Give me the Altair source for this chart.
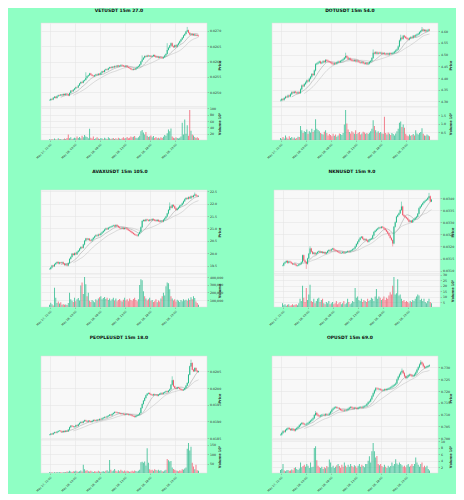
import altair as alt
import pandas as pd

UP = "#26b98a"
DOWN = "#f0576a"

tick_labels = ["2025-05-27 22:00", "2025-05-28 03:00", "2025-05-28 08:00",
               "2025-05-28 13:00", "2025-05-28 18:00", "2025-05-28 23:00"]
times = pd.date_range("2025-05-27 22:00", periods=120, freq="15min")

# ---------------- VETUSDT ----------------
vet_close = [
    0.02474, 0.02478, 0.02476, 0.02482, 0.02485, 0.02481, 0.02487, 0.02490, 0.02489, 0.02492,
    0.02490, 0.02494, 0.02491, 0.02495, 0.02493, 0.02489, 0.02497, 0.02505, 0.02503, 0.02508,
    0.02512, 0.02516, 0.02515, 0.02522, 0.02528, 0.02533, 0.02531, 0.02537, 0.02540, 0.02546,
    0.02552, 0.02555, 0.02561, 0.02557, 0.02554, 0.02552, 0.02555, 0.02558, 0.02556, 0.02560,
    0.02558, 0.02563, 0.02568, 0.02566, 0.02572, 0.02575, 0.02573, 0.02578, 0.02581, 0.02579,
    0.02583, 0.02581, 0.02585, 0.02583, 0.02587, 0.02584, 0.02586, 0.02589, 0.02587, 0.02585,
    0.02583, 0.02586, 0.02582, 0.02580, 0.02578, 0.02575, 0.02573, 0.02576, 0.02574, 0.02578,
    0.02582, 0.02585, 0.02590, 0.02600, 0.02607, 0.02612, 0.02618, 0.02616, 0.02620, 0.02617,
    0.02619, 0.02616, 0.02618, 0.02621, 0.02617, 0.02614, 0.02616, 0.02612, 0.02615, 0.02613,
    0.02611, 0.02614, 0.02620, 0.02625, 0.02638, 0.02645, 0.02652, 0.02660, 0.02650, 0.02647,
    0.02653, 0.02648, 0.02655, 0.02660, 0.02666, 0.02672, 0.02678, 0.02685, 0.02690, 0.02698,
    0.02702, 0.02694, 0.02688, 0.02691, 0.02686, 0.02689, 0.02685, 0.02687, 0.02684, 0.02683]
vet_vol = [
    3, 2, 4, 2, 5, 3, 2, 6, 3, 4,
    2, 3, 5, 4, 7, 18, 6, 9, 4, 5,
    8, 6, 12, 7, 10, 6, 14, 9, 16, 12,
    10, 6, 36, 8, 5, 12, 4, 6, 9, 5,
    4, 7, 5, 3, 8, 5, 4, 9, 6, 4,
    5, 7, 4, 6, 3, 8, 5, 4, 6, 9,
    5, 7, 10, 6, 8, 12, 9, 11, 13, 8,
    6, 9, 14, 28, 32, 24, 18, 26, 14, 10,
    12, 15, 9, 13, 7, 10, 6, 8, 5, 9,
    7, 11, 16, 14, 22, 34, 28, 37, 12, 8,
    6, 9, 7, 5, 8, 12, 55, 18, 65, 20,
    47, 14, 95, 30, 18, 15, 10, 7, 9, 6]
vet_hi = {29: 0.02565, 74: 0.02620, 94: 0.02660, 110: 0.02713}
vet_lo = {}

# ---------------- DOTUSDT ----------------
dot_close = [
    4.304, 4.310, 4.307, 4.314, 4.320, 4.318, 4.325, 4.322, 4.331, 4.339,
    4.336, 4.341, 4.338, 4.335, 4.339, 4.336, 4.352, 4.368, 4.365, 4.374,
    4.381, 4.389, 4.386, 4.397, 4.405, 4.417, 4.413, 4.432, 4.459, 4.462,
    4.466, 4.470, 4.463, 4.466, 4.472, 4.468, 4.477, 4.474, 4.470, 4.468,
    4.466, 4.462, 4.459, 4.463, 4.461, 4.466, 4.470, 4.468, 4.473, 4.476,
    4.480, 4.486, 4.494, 4.488, 4.480, 4.483, 4.478, 4.475, 4.473, 4.476,
    4.471, 4.474, 4.469, 4.467, 4.465, 4.468, 4.463, 4.461, 4.464, 4.459,
    4.462, 4.468, 4.473, 4.485, 4.508, 4.505, 4.510, 4.504, 4.508, 4.506,
    4.508, 4.503, 4.506, 4.502, 4.501, 4.504, 4.500, 4.505, 4.503, 4.506,
    4.508, 4.512, 4.518, 4.522, 4.535, 4.560, 4.572, 4.568, 4.580, 4.576,
    4.571, 4.568, 4.565, 4.570, 4.574, 4.572, 4.580, 4.577, 4.583, 4.586,
    4.589, 4.595, 4.601, 4.607, 4.602, 4.605, 4.600, 4.603, 4.606, 4.604]
dot_vol = [
    0.15, 0.10, 0.20, 0.12, 0.30, 0.18, 0.10, 0.25, 0.15, 0.20,
    0.12, 0.18, 0.10, 0.15, 0.22, 0.20, 0.85, 0.60, 0.45, 0.55,
    0.50, 0.65, 0.40, 0.55, 0.48, 0.70, 0.50, 0.60, 1.25, 0.70,
    0.62, 0.55, 0.45, 0.40, 0.35, 0.52, 0.60, 0.45, 0.30, 0.38,
    0.32, 0.25, 0.40, 0.28, 0.35, 0.22, 0.30, 0.42, 0.38, 0.33,
    0.45, 0.95, 1.80, 1.00, 0.65, 0.50, 0.42, 0.55, 0.48, 0.40,
    0.60, 0.38, 0.45, 0.50, 0.35, 0.42, 0.52, 0.48, 0.40, 0.45,
    0.38, 0.46, 0.55, 0.70, 1.20, 0.85, 0.60, 0.48, 0.55, 0.45,
    0.50, 0.42, 0.40, 1.40, 0.45, 0.35, 0.48, 0.40, 0.32, 0.45,
    0.38, 0.30, 0.42, 0.55, 0.70, 1.05, 1.12, 0.80, 0.95, 0.75,
    0.40, 0.30, 0.25, 0.35, 0.28, 0.32, 0.38, 0.30, 0.60, 0.42,
    0.35, 0.45, 0.50, 0.72, 0.40, 0.30, 0.28, 0.35, 0.30, 0.25]
dot_hi = {52: 4.508, 74: 4.522, 96: 4.585, 113: 4.618}
dot_lo = {}

# ---------------- AVAXUSDT ----------------
avax_close = [
    19.36, 19.42, 19.50, 19.47, 19.55, 19.60, 19.64, 19.58, 19.62, 19.60,
    19.63, 19.57, 19.52, 19.55, 19.50, 19.60, 19.77, 19.85, 19.98, 19.93,
    20.00, 19.96, 20.05, 20.10, 20.18, 20.25, 20.22, 20.35, 20.50, 20.59,
    20.55, 20.58, 20.52, 20.50, 20.56, 20.62, 20.68, 20.73, 20.70, 20.76,
    20.74, 20.80, 20.85, 20.90, 20.96, 21.00, 20.97, 21.03, 21.05, 21.07,
    21.10, 21.12, 21.08, 21.14, 21.10, 21.05, 21.02, 21.00, 21.03, 20.98,
    21.02, 21.00, 20.96, 20.93, 20.90, 20.86, 20.82, 20.78, 20.75, 20.73,
    20.70, 20.78, 20.86, 21.05, 21.30, 21.34, 21.30, 21.36, 21.34, 21.31,
    21.35, 21.33, 21.38, 21.35, 21.32, 21.30, 21.34, 21.29, 21.27, 21.30,
    21.28, 21.35, 21.41, 21.48, 21.60, 21.75, 21.89, 21.84, 21.95, 21.90,
    21.82, 21.75, 21.80, 21.85, 21.92, 21.95, 22.02, 22.10, 22.18, 22.23,
    22.20, 22.26, 22.22, 22.30, 22.27, 22.33, 22.37, 22.32, 22.30, 22.31]
avax_vol = [
    40000, 66000, 45000, 30000, 262000, 130000, 60000, 80000, 55000, 70000,
    40000, 45000, 38000, 42000, 35000, 60000, 195000, 110000, 90000, 75000,
    130000, 85000, 110000, 125000, 95000, 290000, 330000, 180000, 400000, 305000,
    150000, 195000, 90000, 75000, 100000, 85000, 70000, 110000, 95000, 120000,
    135000, 150000, 110000, 125000, 140000, 115000, 130000, 100000, 120000, 90000,
    110000, 130000, 95000, 120000, 85000, 100000, 115000, 90000, 80000, 105000,
    130000, 95000, 110000, 85000, 120000, 100000, 90000, 115000, 130000, 100000,
    85000, 110000, 295000, 370000, 360000, 215000, 150000, 120000, 95000, 110000,
    130000, 90000, 100000, 75000, 85000, 110000, 70000, 95000, 80000, 120000,
    150000, 195000, 160000, 280000, 330000, 320000, 240000, 150000, 120000, 95000,
    110000, 80000, 105000, 90000, 75000, 100000, 85000, 110000, 95000, 105000,
    90000, 120000, 100000, 135000, 110000, 150000, 125000, 80000, 60000, 40000]
avax_hi = {96: 22.05, 116: 22.45}
avax_lo = {}

# ---------------- NKNUSDT ----------------
nkn_close = [
    0.03121, 0.03130, 0.03135, 0.03140, 0.03132, 0.03138, 0.03135, 0.03130, 0.03126, 0.03128,
    0.03124, 0.03120, 0.03121, 0.03125, 0.03128, 0.03135, 0.03163, 0.03142, 0.03136, 0.03128,
    0.03150, 0.03170, 0.03191, 0.03178, 0.03170, 0.03174, 0.03168, 0.03172, 0.03177, 0.03180,
    0.03175, 0.03178, 0.03173, 0.03176, 0.03170, 0.03174, 0.03181, 0.03185, 0.03183, 0.03188,
    0.03191, 0.03186, 0.03183, 0.03181, 0.03178, 0.03175, 0.03172, 0.03173, 0.03176, 0.03172,
    0.03175, 0.03177, 0.03180, 0.03178, 0.03182, 0.03184, 0.03188, 0.03191, 0.03200, 0.03210,
    0.03219, 0.03228, 0.03236, 0.03240, 0.03232, 0.03226, 0.03230, 0.03224, 0.03219, 0.03225,
    0.03230, 0.03233, 0.03245, 0.03260, 0.03265, 0.03270, 0.03274, 0.03278, 0.03276, 0.03281,
    0.03278, 0.03274, 0.03268, 0.03262, 0.03254, 0.03245, 0.03235, 0.03226, 0.03212, 0.03281,
    0.03300, 0.03323, 0.03330, 0.03337, 0.03350, 0.03365, 0.03330, 0.03325, 0.03320, 0.03316,
    0.03310, 0.03302, 0.03306, 0.03300, 0.03309, 0.03312, 0.03318, 0.03323, 0.03335, 0.03358,
    0.03365, 0.03372, 0.03379, 0.03385, 0.03390, 0.03393, 0.03400, 0.03407, 0.03386, 0.03393]
nkn_vol = [
    4, 2, 3, 1.5, 2.5, 3, 1.5, 2, 3, 2,
    2.5, 3, 2, 4, 8, 6, 20, 9, 5, 18,
    7, 12, 21, 6, 5, 8, 4, 6, 8, 9,
    5, 7, 8, 4, 3, 5, 4, 6, 3, 4,
    5, 3, 4, 6, 3, 4, 5, 3, 4, 6,
    3, 4, 8, 5, 3, 4, 6, 5, 18, 9,
    10, 7, 6, 8, 5, 7, 6, 5, 8, 6,
    7, 9, 8, 6, 10, 17, 8, 10, 9, 7,
    8, 10, 7, 9, 8, 11, 14, 12, 20, 28,
    12, 13, 26, 11, 12, 8, 6, 7, 5, 6,
    5, 4, 6, 5, 7, 6, 8, 10, 12, 11,
    7, 8, 6, 8, 5, 4, 6, 8, 5, 4]
nkn_hi = {22: 0.03200, 95: 0.03385, 117: 0.03421}
nkn_lo = {19: 0.03107, 88: 0.03200}

# ---------------- PEOPLEUSDT ----------------
people_close = [
    0.01860, 0.01863, 0.01861, 0.01865, 0.01867, 0.01866, 0.01869, 0.01871, 0.01872, 0.01870,
    0.01868, 0.01871, 0.01869, 0.01872, 0.01870, 0.01875, 0.01882, 0.01887, 0.01885, 0.01883,
    0.01884, 0.01888, 0.01886, 0.01891, 0.01895, 0.01898, 0.01896, 0.01900, 0.01903, 0.01901,
    0.01899, 0.01902, 0.01900, 0.01898, 0.01901, 0.01904, 0.01903, 0.01902, 0.01905, 0.01904,
    0.01907, 0.01906, 0.01909, 0.01911, 0.01913, 0.01912, 0.01915, 0.01917, 0.01920, 0.01918,
    0.01922, 0.01925, 0.01928, 0.01927, 0.01925, 0.01926, 0.01924, 0.01922, 0.01923, 0.01921,
    0.01920, 0.01922, 0.01921, 0.01919, 0.01920, 0.01918, 0.01916, 0.01915, 0.01913, 0.01916,
    0.01918, 0.01920, 0.01925, 0.01940, 0.01952, 0.01962, 0.01970, 0.01978, 0.01983, 0.01985,
    0.01982, 0.01980, 0.01978, 0.01981, 0.01979, 0.01980, 0.01977, 0.01980, 0.01983, 0.01985,
    0.01983, 0.01986, 0.01988, 0.01990, 0.01988, 0.01992, 0.01996, 0.02010, 0.02023, 0.02005,
    0.02000, 0.01998, 0.02002, 0.02000, 0.01997, 0.01995, 0.01993, 0.01995, 0.02000, 0.02007,
    0.02015, 0.02040, 0.02065, 0.02075, 0.02055, 0.02050, 0.02060, 0.02052, 0.02048, 0.02050]
people_vol = [
    4, 3, 5, 2, 4, 3, 6, 3, 5, 4,
    3, 5, 4, 6, 8, 7, 12, 9, 6, 10,
    8, 12, 9, 7, 10, 14, 8, 45, 20, 12,
    15, 10, 8, 12, 9, 6, 10, 8, 7, 12,
    9, 6, 8, 10, 7, 12, 15, 9, 70, 18,
    10, 14, 22, 12, 8, 15, 10, 18, 12, 9,
    14, 8, 12, 10, 7, 9, 12, 8, 14, 11,
    9, 13, 18, 58, 60, 55, 62, 40, 132, 55,
    20, 15, 18, 12, 20, 16, 14, 18, 12, 15,
    10, 8, 14, 18, 75, 68, 62, 65, 30, 22,
    18, 14, 12, 10, 15, 12, 20, 18, 25, 30,
    130, 160, 120, 140, 55, 35, 20, 45, 15, 12]
people_hi = {98: 0.02035, 113: 0.02085}
people_lo = {}

# ---------------- OPUSDT ----------------
op_close = [
    0.7015, 0.7022, 0.7030, 0.7028, 0.7035, 0.7040, 0.7043, 0.7039, 0.7035, 0.7040,
    0.7037, 0.7033, 0.7038, 0.7043, 0.7048, 0.7055, 0.7060, 0.7065, 0.7061, 0.7058,
    0.7058, 0.7062, 0.7065, 0.7070, 0.7074, 0.7079, 0.7085, 0.7098, 0.7107, 0.7100,
    0.7095, 0.7093, 0.7096, 0.7099, 0.7100, 0.7097, 0.7102, 0.7099, 0.7100, 0.7105,
    0.7112, 0.7121, 0.7126, 0.7130, 0.7132, 0.7128, 0.7128, 0.7124, 0.7120, 0.7118,
    0.7116, 0.7119, 0.7118, 0.7121, 0.7125, 0.7129, 0.7132, 0.7129, 0.7126, 0.7129,
    0.7128, 0.7125, 0.7129, 0.7131, 0.7132, 0.7130, 0.7134, 0.7136, 0.7138, 0.7145,
    0.7152, 0.7156, 0.7165, 0.7178, 0.7190, 0.7202, 0.7212, 0.7210, 0.7207, 0.7208,
    0.7205, 0.7202, 0.7203, 0.7206, 0.7204, 0.7208, 0.7210, 0.7212, 0.7215, 0.7219,
    0.7223, 0.7226, 0.7232, 0.7248, 0.7260, 0.7270, 0.7279, 0.7285, 0.7275, 0.7262,
    0.7255, 0.7260, 0.7265, 0.7269, 0.7266, 0.7262, 0.7264, 0.7270, 0.7278, 0.7290,
    0.7300, 0.7312, 0.7321, 0.7315, 0.7304, 0.7298, 0.7300, 0.7303, 0.7306, 0.7308]
op_vol = [
    1.2, 1.5, 3.0, 1.0, 0.8, 1.1, 1.2, 0.9, 1.0, 1.3,
    1.1, 1.8, 2.0, 1.5, 1.2, 1.6, 3.5, 2.0, 2.4, 2.8,
    2.2, 3.0, 2.5, 1.8, 3.5, 2.0, 2.2, 8.0, 8.5, 4.2,
    2.5, 2.0, 1.8, 2.2, 1.5, 2.0, 1.7, 2.4, 2.0, 4.4,
    3.5, 2.0, 2.5, 1.8, 2.2, 2.6, 3.0, 2.4, 1.9, 2.8,
    2.2, 3.5, 2.5, 2.0, 2.8, 2.2, 3.0, 2.4, 2.0, 2.6,
    2.3, 1.9, 2.5, 3.0, 2.2, 2.8, 2.4, 2.0, 3.0, 3.0,
    4.0, 5.4, 3.5, 7.0, 9.5, 7.0, 5.0, 5.5, 3.0, 2.6,
    3.0, 2.4, 2.0, 2.8, 2.2, 1.8, 2.5, 2.0, 2.4, 3.5,
    2.5, 3.0, 4.5, 3.2, 2.8, 3.5, 3.0, 2.6, 2.2, 2.5,
    2.0, 2.6, 3.0, 2.2, 2.5, 3.0, 2.4, 3.0, 5.0, 3.5,
    2.8, 2.2, 3.0, 3.5, 2.0, 2.5, 2.0, 2.5, 1.5, 1.0]
op_hi = {28: 0.7115, 97: 0.7295, 112: 0.7330}
op_lo = {}

W, HP, HV = 166, 84, 33

tick_vals = [alt.DateTime(year=int(s[0:4]), month=int(s[5:7]), date=int(s[8:10]),
                          hours=int(s[11:13]), minutes=0) for s in tick_labels]


def make_panel(title, close, vol, hi, lo, wick, ylim, ycount, vcount, vtitle, toff):
    opens = [close[0]] + close[:-1]
    rows = []
    for i in range(len(close)):
        o, c = opens[i], close[i]
        h = max(max(o, c) + wick, hi.get(i, 0))
        l = min(min(o, c) - wick, lo.get(i, 1e9))
        rows.append({"t": times[i], "o": o, "c": c, "h": h, "l": l, "v": vol[i]})
    df = pd.DataFrame(rows)
    color = alt.condition("datum.c >= datum.o", alt.value(UP), alt.value(DOWN))
    xs = alt.Scale(padding=8.5)
    x_price = alt.X("t:T", scale=xs, title=None,
                    axis=alt.Axis(values=tick_vals, labels=False, ticks=False, grid=True,
                                  minExtent=0, maxExtent=0, labelPadding=0, offset=0))
    x_vol = alt.X("t:T", scale=xs, title=None,
                  axis=alt.Axis(values=tick_vals, format="%b %d, %H:%M", labelAngle=-45,
                                labelAlign="right", labelBaseline="top", grid=True,
                                labelFontSize=2.8,
                                tickSize=1.5, labelPadding=1, minExtent=14, maxExtent=14))
    yscale = alt.Scale(domain=ylim, nice=False, zero=False)
    yax = dict(orient="right", titleAngle=270, minExtent=12, maxExtent=12)
    base = alt.Chart(df)
    wicks = base.mark_rule(strokeWidth=0.5).encode(
        x=x_price,
        y=alt.Y("l:Q", scale=yscale, title="Price", axis=alt.Axis(tickCount=ycount, **yax)),
        y2="h:Q", color=color)
    bodies = base.mark_bar(size=1.0).encode(x=x_price, y="o:Q", y2="c:Q", color=color)
    ma_a = base.transform_window(ma="mean(c)", n="count()", frame=[-9, 0],
                                 sort=[alt.SortField("t")]).transform_filter(
        "datum.n >= 10").mark_line(color="#a8a8a8", strokeWidth=0.6).encode(x=x_price, y="ma:Q")
    ma_b = base.transform_window(ma="mean(c)", n="count()", frame=[-19, 0],
                                 sort=[alt.SortField("t")]).transform_filter(
        "datum.n >= 20").mark_line(color="#c4c4c4", strokeWidth=0.6).encode(x=x_price, y="ma:Q")
    price = alt.layer(ma_b, ma_a, wicks, bodies).properties(width=W, height=HP)
    vdom = [0.3 * min(vol), 1.1 * max(vol)]
    volc = base.mark_bar(size=1.0, opacity=0.75, clip=True).encode(
        x=x_vol,
        y=alt.Y("v:Q", scale=alt.Scale(domain=vdom, nice=False, zero=False), title=vtitle,
                axis=alt.Axis(tickCount=vcount, **yax)),
        color=color).properties(width=W, height=HV)
    return alt.vconcat(price, volc, spacing=0, bounds="flush",
                       title=alt.TitleParams(title, fontSize=4.5, fontWeight="bold",
                                             anchor="middle", dx=-9, offset=toff))


p1 = make_panel("VETUSDT 15m 27.0", vet_close, vet_vol, vet_hi, vet_lo, 0.00002,
                [0.024516, 0.027258], 5, 5, "Volume  10⁵", 10)
p2 = make_panel("DOTUSDT 15m 54.0", dot_close, dot_vol, dot_hi, dot_lo, 0.004,
                [4.276, 4.635], 7, 4, "Volume  10⁵", 10)
p3 = make_panel("AVAXUSDT 15m 105.0", avax_close, avax_vol, avax_hi, avax_lo, 0.03,
                [19.16, 22.553], 7, 4, "Volume", 16)
p4 = make_panel("NKNUSDT 15m 9.0", nkn_close, nkn_vol, nkn_hi, nkn_lo, 0.00003,
                [0.03086, 0.03433], 7, 6, "Volume  10⁵", 16)
p5 = make_panel("PEOPLEUSDT 15m 18.0", people_close, people_vol, people_hi, people_lo, 0.00002,
                [0.01844, 0.02096], 5, 3, "Volume  10⁵", 16)
p6 = make_panel("OPUSDT 15m 69.0", op_close, op_vol, op_hi, op_lo, 0.0004,
                [0.69928, 0.73478], 7, 5, "Volume  10⁵", 16)

row1 = alt.hconcat(p1, p2, spacing=45)
row2 = alt.hconcat(p3, p4, spacing=45)
row3 = alt.hconcat(p5, p6, spacing=45)

chart = alt.vconcat(row1, row2, row3, spacing=9).properties(
    background="#8fffc4",
    padding={"left": 27, "top": 0, "right": 2, "bottom": 2},
).configure_view(fill="#f8f8f8", stroke="#dedede", strokeWidth=0.5).configure_axis(
    labelFont="DejaVu Sans", titleFont="DejaVu Sans", labelFontSize=3.2, titleFontSize=3.5,
    labelColor="#333333", titleColor="#333333", tickSize=1.5, tickWidth=0.4, tickColor="#777777",
    domain=False, gridColor="#e2e2e2", gridWidth=0.5, labelPadding=1, titlePadding=2,
).configure_title(font="DejaVu Sans", color="#111111")

chart.save("out.html", embed_options={"renderer": "svg", "actions": False})
